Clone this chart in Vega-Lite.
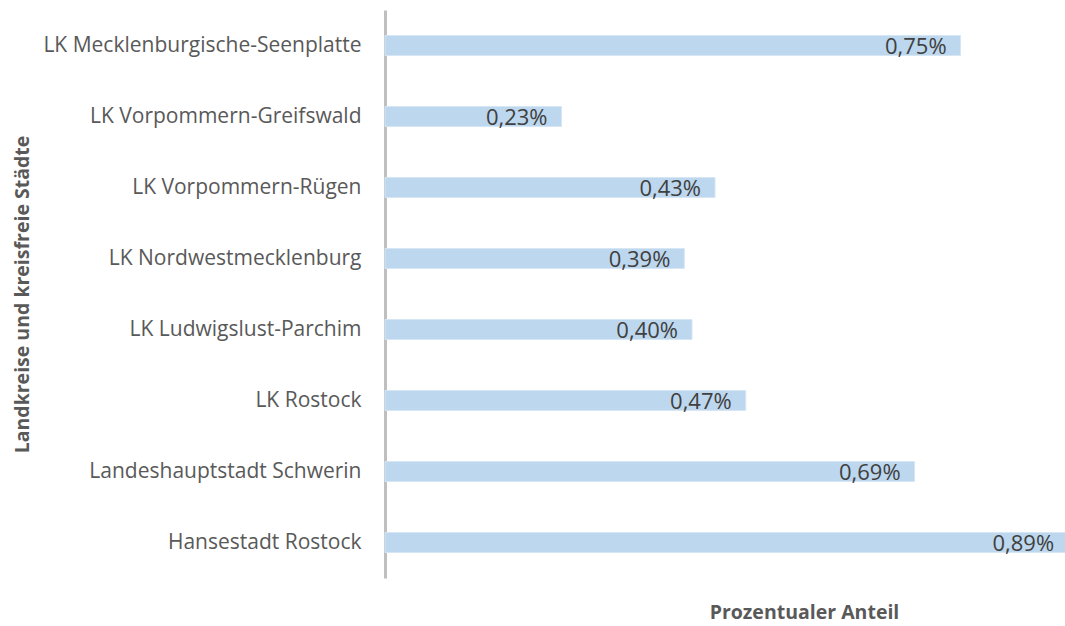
{
  "$schema": "https://vega.github.io/schema/vega-lite/v6.json",
  "autosize": "none",
  "width": 680,
  "height": 568,
  "padding": {"left": 385, "top": 10, "right": 0, "bottom": 48},
  "background": "white",
  "config": {
    "view": {"stroke": null},
    "font": "Open Sans"
  },
  "data": {
    "values": [
      {"kreis": "LK Mecklenburgische-Seenplatte", "anteil": 0.75, "label": "0,75%"},
      {"kreis": "LK Vorpommern-Greifswald", "anteil": 0.23, "label": "0,23%"},
      {"kreis": "LK Vorpommern-Rügen", "anteil": 0.43, "label": "0,43%"},
      {"kreis": "LK Nordwestmecklenburg", "anteil": 0.39, "label": "0,39%"},
      {"kreis": "LK Ludwigslust-Parchim", "anteil": 0.40, "label": "0,40%"},
      {"kreis": "LK Rostock", "anteil": 0.47, "label": "0,47%"},
      {"kreis": "Landeshauptstadt Schwerin", "anteil": 0.69, "label": "0,69%"},
      {"kreis": "Hansestadt Rostock", "anteil": 0.89, "label": "0,89%"}
    ]
  },
  "encoding": {
    "y": {
      "field": "kreis", "type": "nominal", "sort": null,
      "axis": {
        "title": "Landkreise und kreisfreie Städte",
        "titleFont": "Open Sans", "titleFontSize": 19.5, "titleFontWeight": "bold", "titleColor": "#595959",
        "titleX": -363, "titleAngle": -90, "titleBaseline": "middle",
        "labelFont": "Open Sans", "labelFontSize": 21, "labelColor": "#595959", "labelPadding": 24,
        "ticks": false, "domainColor": "#BFBFBF", "domainWidth": 3, "labelLimit": 400
      }
    },
    "x": {
      "field": "anteil", "type": "quantitative",
      "scale": {"domain": [0, 0.886], "nice": false},
      "axis": {
        "title": "Prozentualer Anteil",
        "titleFont": "Open Sans", "titleFontSize": 19.5, "titleFontWeight": "bold", "titleColor": "#595959",
        "titleX": 419, "titleY": 34, "titleBaseline": "middle",
        "labels": false, "ticks": false, "domain": false, "grid": false
      }
    }
  },
  "layer": [
    {"mark": {"type": "bar", "color": "#BDD7EE", "size": 20, "stroke": "#D6E6F4", "strokeWidth": 1}},
    {"mark": {"type": "text", "align": "right", "baseline": "middle", "dx": -14, "dy": 1, "fontSize": 22, "color": "#404040", "font": "Open Sans"},
     "encoding": {"text": {"field": "label"}}}
  ]
}
